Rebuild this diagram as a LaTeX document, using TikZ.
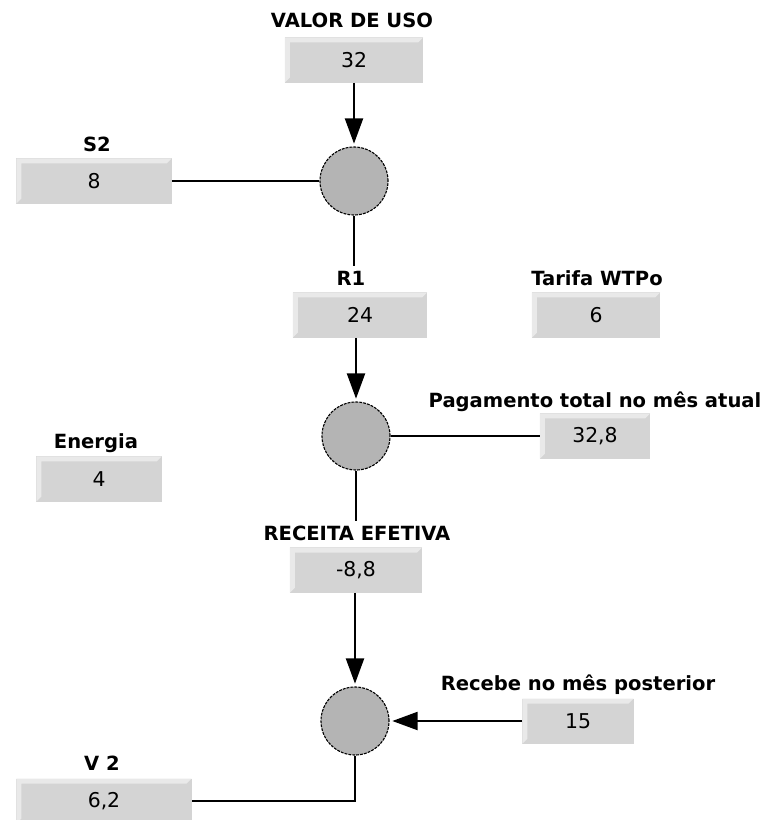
\documentclass[tikz,border=0pt]{standalone}
\usepackage{fontspec}
\setmainfont{DejaVu Sans}
\usetikzlibrary{arrows.meta}

\definecolor{boxfill}{HTML}{D4D4D4}
\definecolor{boxlite}{HTML}{E9E9E9}
\definecolor{circfill}{HTML}{B4B4B4}

\begin{document}
\begin{tikzpicture}[x=0.025cm, y=-0.025cm,
    lbl/.style={font=\bfseries\fontsize{13.9}{16}\selectfont, anchor=base},
    valbox/.style={fill=boxfill, minimum height=1.125cm, inner sep=0pt,
        font=\fontsize{14.5}{17}\selectfont,
        path picture={
            \fill[boxlite] (path picture bounding box.north west)
                -- (path picture bounding box.north east)
                -- ([shift={(-0.125cm,-0.125cm)}]path picture bounding box.north east)
                -- ([shift={(0.125cm,-0.125cm)}]path picture bounding box.north west)
                -- ([shift={(0.125cm,0.125cm)}]path picture bounding box.south west)
                -- (path picture bounding box.south west) -- cycle;
        }},
    sumnode/.style={circle, fill=circfill, draw, dash pattern=on 2pt off 0.8pt,
        line width=0.8pt, minimum size=1.7cm, inner sep=0pt},
    link/.style={line width=1pt},
    flow/.style={line width=1pt, -{Triangle[width=13pt,length=18pt]}, shorten >=2pt}]
    \useasboundingbox (0,0) rectangle (767,820);

    % value boxes with their labels
    \node[lbl] (uselbl) at (352,28) {VALOR DE USO};
    \node[valbox, minimum width=3.45cm] (use) at (354,60) {32};

    \node[lbl] (s2lbl) at (97,152) {S2};
    \node[valbox, minimum width=3.875cm] (s2) at (94,181) {8};

    \node[lbl] (r1lbl) at (351,285) {R1};
    \node[valbox, minimum width=3.35cm] (r1) at (360,315) {24};

    \node[lbl] (tarlbl) at (597,285) {Tarifa WTPo};
    \node[valbox, minimum width=3.2cm] (tar) at (596,315) {6};

    \node[lbl] (paglbl) at (595,407) {Pagamento total no mês atual};
    \node[valbox, minimum width=2.75cm] (pag) at (595,436) {32,8};

    \node[lbl] (enelbl) at (96,448) {Energia};
    \node[valbox, minimum width=3.125cm] (ene) at (99,479) {4};

    \node[lbl] (reclbl) at (357,540) {RECEITA EFETIVA};
    \node[valbox, minimum width=3.3cm] (rec) at (356,570) {-8,8};

    \node[lbl] (poslbl) at (578,690) {Recebe no mês posterior};
    \node[valbox, minimum width=2.775cm] (pos) at (578,721) {15};

    \node[lbl] (v2lbl) at (102,770) {V 2};
    \node[valbox, minimum width=4.375cm] (v2) at (104,801) {6,2};

    % summing circles
    \node[sumnode] (c1) at (354,181) {};
    \node[sumnode] (c2) at (356,436) {};
    \node[sumnode] (c3) at (355,721) {};

    % connectors
    \draw[flow] (use) -- (c1);
    \draw[link] (s2) -- (c1);
    \draw[link] (c1) -- (c1 |- r1lbl.north);
    \draw[flow] (r1.south -| c2) -- (c2);
    \draw[link] (c2) -- (pag);
    \draw[link] (c2) -- (c2 |- reclbl.north);
    \draw[flow] (rec.south -| c3) -- (c3);
    \draw[flow] (pos) -- (c3);
    \draw[link] (c3) |- (v2);
\end{tikzpicture}
\end{document}
